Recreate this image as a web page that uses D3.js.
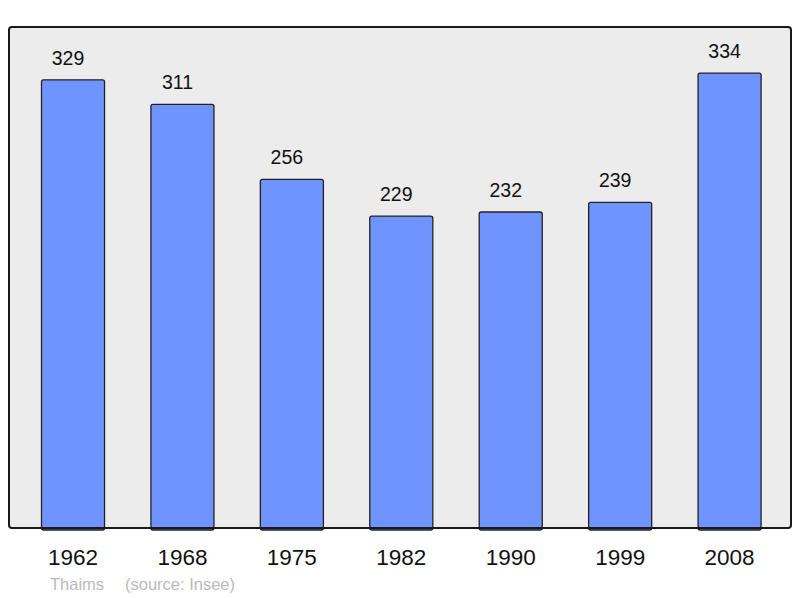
<!DOCTYPE html>
<html>
<head>
<meta charset="utf-8">
<script src="https://cdn.jsdelivr.net/npm/d3@7"></script>
<style>
  body { margin: 0; background: #fff; }
  text { font-family: "Liberation Sans", Arial, sans-serif; }
</style>
</head>
<body>
<div id="chart"></div>
<script>
var years = ['1962', '1968', '1975', '1982', '1990', '1999', '2008'];
var population = [329, 311, 256, 229, 232, 239, 334];
var commune = 'Thaims';
var sourceNote = '(source: Insee)';

var width = 800, height = 598;
var frame = {left: 9, top: 27, right: 791, bottom: 528};

var svg = d3.select('#chart').append('svg')
  .attr('width', width)
  .attr('height', height);

// plot background
svg.append('rect')
  .attr('x', frame.left)
  .attr('y', frame.top)
  .attr('width', frame.right - frame.left)
  .attr('height', frame.bottom - frame.top)
  .attr('rx', 3)
  .style('fill', '#ececec')
  .style('stroke', 'none');

var x = d3.scaleBand()
  .domain(years)
  .range([18.3, 784.3])
  .paddingInner(0.424)
  .paddingOuter(0.212);

var y = d3.scaleLinear()
  .domain([0, 367.8])
  .range([frame.bottom, frame.top]);

svg.selectAll('rect.bar')
  .data(population).enter().append('rect')
  .attr('class', 'bar')
  .attr('x', function(d, i) { return x(years[i]); })
  .attr('y', function(d) { return y(d); })
  .attr('width', x.bandwidth())
  .attr('height', function(d) { return y(0) - y(d) + 2; })
  .attr('rx', 2)
  .style('fill', '#7094ff')
  .style('stroke', '#222')
  .style('stroke-width', 1.3);

// value labels above the bars
svg.selectAll('text.val')
  .data(population).enter().append('text')
  .attr('class', 'val')
  .attr('x', function(d, i) { return x(years[i]) + x.bandwidth() / 2 - 5; })
  .attr('y', function(d) { return y(d) - 15; })
  .attr('text-anchor', 'middle')
  .style('font-size', '19.5px')
  .style('fill', '#111')
  .text(function(d) { return d; });

// frame on top
svg.append('rect')
  .attr('x', frame.left)
  .attr('y', frame.top)
  .attr('width', frame.right - frame.left)
  .attr('height', frame.bottom - frame.top)
  .attr('rx', 3)
  .style('fill', 'none')
  .style('stroke', '#1a1a1a')
  .style('stroke-width', 2);

// year labels
svg.selectAll('text.year')
  .data(years).enter().append('text')
  .attr('class', 'year')
  .attr('x', function(d) { return x(d) + x.bandwidth() / 2; })
  .attr('y', 565)
  .attr('text-anchor', 'middle')
  .style('font-size', '22.5px')
  .style('fill', '#111')
  .text(function(d) { return d; });

svg.append('text')
  .attr('x', 50)
  .attr('y', 590)
  .style('font-size', '16.5px')
  .style('fill', '#bbb')
  .text(commune);

svg.append('text')
  .attr('x', 125)
  .attr('y', 590)
  .style('font-size', '16.5px')
  .style('fill', '#bbb')
  .text(sourceNote);
</script>
</body>
</html>
